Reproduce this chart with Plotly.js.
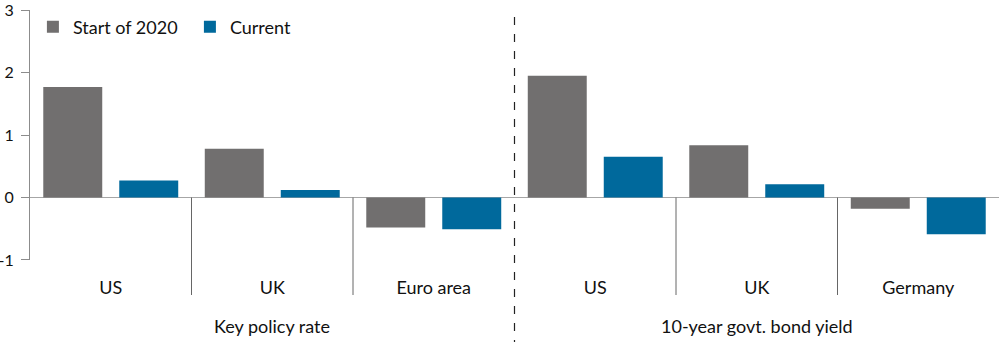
<!DOCTYPE html>
<html>
<head>
<meta charset="utf-8">
<script src="https://cdn.plot.ly/plotly-3.0.1.min.js"></script>
<style>html,body{margin:0;padding:0;background:#fff;}#chart{width:1000px;height:342px;}</style>
</head>
<body>
<div id="chart"></div>
<script>
// Data
var categories = ['US', 'UK', 'Euro area', 'US', 'UK', 'Germany'];
var groupNames = ['Key policy rate', '10-year govt. bond yield'];
var groupSizes = [3, 3];
var seriesNames = ['Start of 2020', 'Current'];
var start2020 = [1.77, 0.78, -0.48, 1.95, 0.835, -0.18];
var current = [0.27, 0.12, -0.51, 0.65, 0.21, -0.59];
var yTicks = [-1, 0, 1, 2, 3];

var xIdx = categories.map(function (c, i) { return i; });
var FONT = 'Lato, "Noto Sans", sans-serif';

var traces = [
  { type: 'bar', name: seriesNames[0], x: xIdx, y: start2020, marker: { color: '#716f6f' } },
  { type: 'bar', name: seriesNames[1], x: xIdx, y: current, marker: { color: '#00699c' } }
];

var shapes = [];
var annotations = [];
var acc = 0;
groupSizes.forEach(function (n, g) {
  annotations.push({
    x: acc + (n - 1) / 2, xref: 'x', y: -0.262, yref: 'paper',
    text: groupNames[g], showarrow: false, yanchor: 'middle',
    font: { family: FONT, size: 18, color: '#111' }
  });
  acc += n;
});
var groupEdges = [];
acc = 0;
groupSizes.slice(0, -1).forEach(function (n) { acc += n; groupEdges.push(acc - 0.5); });
for (var i = 0; i < categories.length - 1; i++) {
  var xb = i + 0.5;
  if (groupEdges.indexOf(xb) >= 0) {
    shapes.push({ type: 'line', xref: 'x', yref: 'paper', x0: xb, x1: xb, y0: 0.972, y1: -0.33,
      line: { color: '#222', width: 1.2, dash: '8px,9px' } });
  } else {
    shapes.push({ type: 'line', xref: 'x', yref: 'paper', x0: xb, x1: xb, y0: 0.25, y1: -0.14,
      line: { color: '#666', width: 1 } });
  }
}

var layout = {
  width: 1000, height: 342,
  margin: { l: 30, r: 1, t: 10, b: 82 },
  paper_bgcolor: '#fff', plot_bgcolor: '#fff',
  font: { family: FONT, size: 18, color: '#111' },
  barmode: 'group', bargap: 0.059, bargroupgap: 0.224,
  showlegend: true,
  legend: {
    orientation: 'h', x: 0.003, xanchor: 'left', y: 1.006, yanchor: 'top',
    font: { family: FONT, size: 18, color: '#111' },
    entrywidth: 112, bgcolor: 'rgba(0,0,0,0)'
  },
  xaxis: {
    range: [-0.5, categories.length - 0.5],
    tickvals: xIdx, ticktext: categories,
    showgrid: false, zeroline: false, showline: false, ticks: '',
    ticklabelstandoff: 15,
    tickfont: { family: FONT, size: 18, color: '#111' },
    fixedrange: true
  },
  yaxis: {
    range: [-1.0001, 3.0001], tickvals: yTicks, ticktext: yTicks.map(String),
    showgrid: false, showline: true, linecolor: '#8c8c8c', linewidth: 1,
    ticks: 'outside', ticklen: 8, tickcolor: '#8c8c8c',
    zeroline: true, zerolinecolor: '#a6a6a6', zerolinewidth: 1.5,
    tickfont: { family: FONT, size: 16, color: '#111' },
    ticklabelstandoff: 4, ticklabeloverflow: 'allow',
    fixedrange: true
  },
  shapes: shapes,
  annotations: annotations
};

Plotly.newPlot('chart', traces, layout, { displayModeBar: false, staticPlot: true });
</script>
</body>
</html>
